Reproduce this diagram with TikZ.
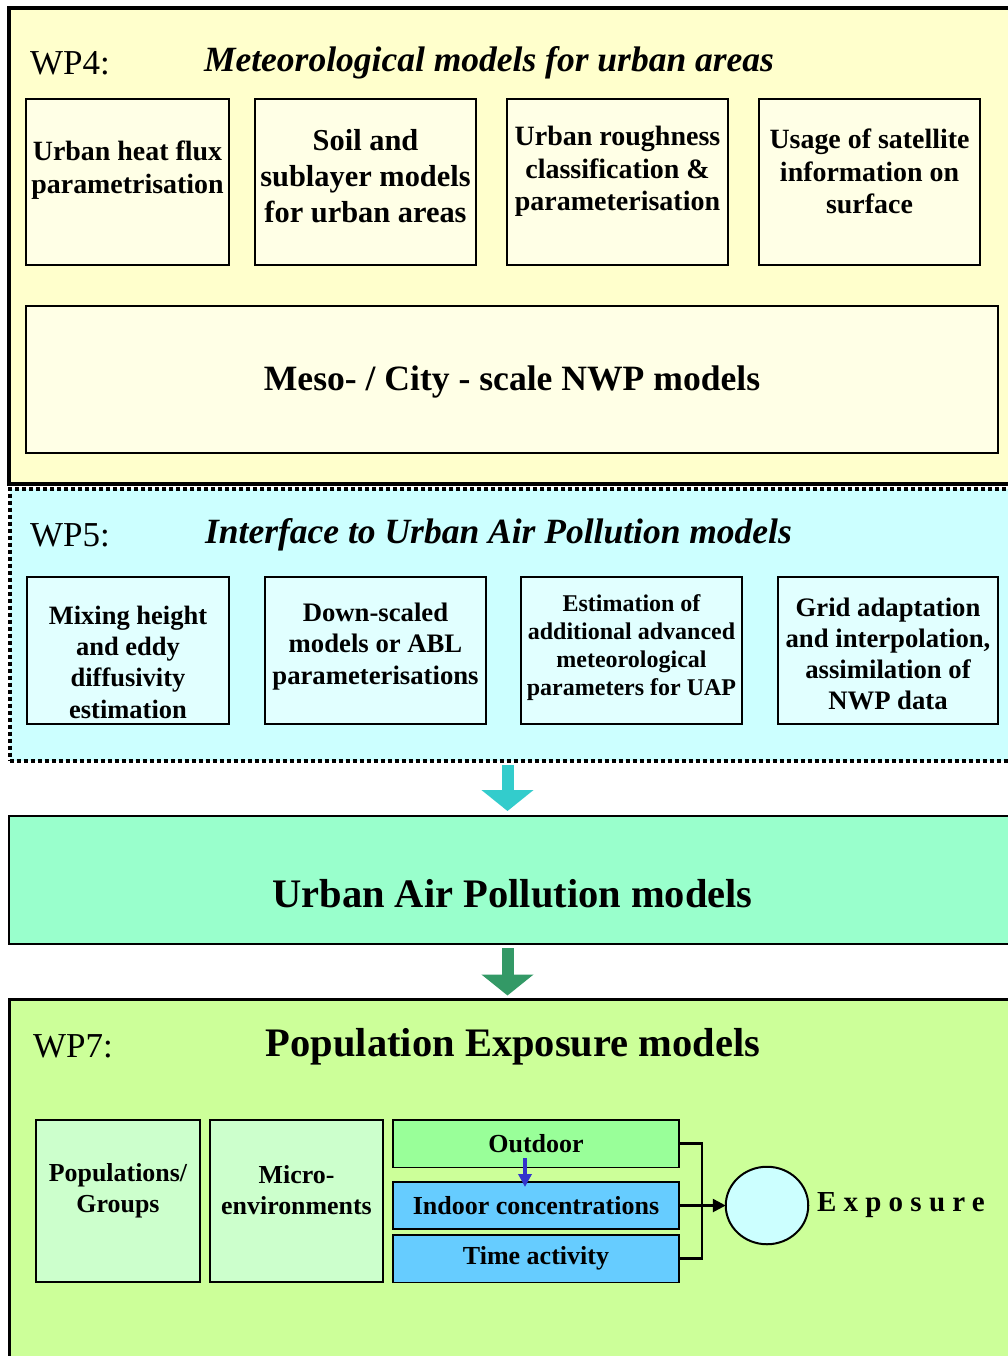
\documentclass[tikz,border=0pt]{standalone}
\usepackage{fontspec}
\setmainfont{Liberation Serif}
\usetikzlibrary{arrows.meta,calc,shapes.geometric}
\definecolor{wpyellow}{HTML}{FFFFCC}
\definecolor{boxyellow}{HTML}{FFFFE6}
\definecolor{wpcyan}{HTML}{CCFFFF}
\definecolor{boxcyan}{HTML}{E1FFFF}
\definecolor{uapgreen}{HTML}{99FFCC}
\definecolor{wpgreen}{HTML}{CCFF99}
\definecolor{popgreen}{HTML}{CCFFCC}
\definecolor{outgreen}{HTML}{99FF99}
\definecolor{inblue}{HTML}{66CCFF}
\definecolor{circcol}{HTML}{CCFFFF}
\definecolor{cyanarrow}{HTML}{33CCCC}
\definecolor{greenarrow}{HTML}{339966}
\definecolor{bluearrow}{HTML}{3333CC}
\newcommand\fsz[2]{\fontsize{#1}{#2}\selectfont}
\begin{document}
\begin{tikzpicture}[x=1pt,y=-1pt,
  panel/.style={draw=black, rectangle, outer sep=0pt, inner sep=0pt, anchor=north west},
  box/.style={draw=black, rectangle, outer sep=0pt, inner sep=0pt, anchor=north west, line width=2pt},
  txt/.style={inner sep=0pt, outer sep=0pt, align=center, yshift=-3pt},
  conn/.style={draw=black, line width=2.6pt},
  bigarrow/.style={line width=12pt, -{Triangle[width=51pt,length=21pt]}}
]
\clip (0,0) rectangle (1008,1356);
\fill[white] (0,0) rectangle (1008,1356);

% ---------- WP4 ----------
\node[panel, fill=wpyellow, line width=4pt, minimum width=1003, minimum height=476] (wp4) at (9,8) {};
\node[txt, anchor=west, font=\fsz{35}{42}] (wp4lbl) at (30,60) {WP4:};
\node[txt, font=\fsz{35.5}{42}\bfseries\itshape] (wp4title) at (489,60) {Meteorological models for urban areas};

\node[box, fill=boxyellow, minimum width=203, minimum height=166] (b41) at (26,99) {};
\node[box, fill=boxyellow, minimum width=221, minimum height=166] (b42) at (255,99) {};
\node[box, fill=boxyellow, minimum width=221, minimum height=166] (b43) at (507,99) {};
\node[box, fill=boxyellow, minimum width=221, minimum height=166] (b44) at (759,99) {};
\node[txt, font=\fsz{27.9}{33}\bfseries] (t41) at (127.5,167.5) {Urban heat flux\\parametrisation};
\node[txt, font=\fsz{30.4}{36}\bfseries] (t42) at (365.5,173) {Soil and\\sublayer models\\for urban areas};
\node[txt, font=\fsz{28}{32.5}\bfseries] (t43) at (617.5,168.5) {Urban roughness\\classification \&\\parameterisation};
\node[txt, font=\fsz{27.9}{32.5}\bfseries] (t44) at (869.5,168.5) {Usage of satellite\\information on\\surface};

\node[box, fill=boxyellow, minimum width=972, minimum height=147] (meso) at (26,306) {};
\node[txt, font=\fsz{35.6}{42}\bfseries] (mesot) at (512,379) {Meso- / City - scale NWP models};

% ---------- WP5 ----------
\node[panel, fill=wpcyan, line width=4pt, dash pattern=on 4pt off 3pt, minimum width=1003, minimum height=271.5] (wp5) at (9.5,489) {};
\node[txt, anchor=west, font=\fsz{35}{42}] (wp5lbl) at (30,532) {WP5:};
\node[txt, font=\fsz{35.5}{42}\bfseries\itshape] (wp5title) at (498.5,532) {Interface to Urban Air Pollution models};

\node[box, fill=boxcyan, minimum width=202, minimum height=147] (c1) at (27,577) {};
\node[box, fill=boxcyan, minimum width=221, minimum height=147] (c2) at (265,577) {};
\node[box, fill=boxcyan, minimum width=221, minimum height=147] (c3) at (521,577) {};
\node[box, fill=boxcyan, minimum width=220, minimum height=147] (c4) at (778,577) {};
\node[txt, font=\fsz{26.5}{31.3}\bfseries] (tc1) at (128,659) {Mixing height\\and eddy\\diffusivity\\estimation};
\node[txt, font=\fsz{26.7}{31.5}\bfseries] (tc2) at (375.5,643.5) {Down-scaled\\models or ABL\\parameterisations};
\node[txt, font=\fsz{24}{28}\bfseries] (tc3) at (631.5,645) {Estimation of\\additional advanced\\meteorological\\parameters for UAP};
\node[txt, font=\fsz{26.7}{31}\bfseries] (tc4) at (888,650.5) {Grid adaptation\\and interpolation,\\assimilation of\\NWP data};

% ---------- UAP ----------
\node[panel, fill=uapgreen, line width=2.5pt, minimum width=1003, minimum height=128] (uap) at (9,816) {};
\node[txt, font=\fsz{40.5}{48}\bfseries] (uapt) at (512.5,891) {Urban Air Pollution models};

% ---------- WP7 ----------
\node[panel, fill=wpgreen, line width=3pt, minimum width=1003, minimum height=366] (wp7) at (9.5,999) {};
\node[txt, anchor=west, font=\fsz{35}{42}] (wp7lbl) at (33,1043) {WP7:};
\node[txt, font=\fsz{40.5}{48}\bfseries] (wp7title) at (513,1044) {Population Exposure models};

\node[box, line width=1.8pt, fill=popgreen, minimum width=164, minimum height=162] (pop) at (36,1120) {};
\node[box, line width=1.8pt, fill=popgreen, minimum width=173, minimum height=162] (micro) at (210,1120) {};
\node[txt, font=\fsz{25.9}{31}\bfseries] (popt) at (118,1187.5) {Populations/\\Groups};
\node[txt, font=\fsz{25.9}{31}\bfseries] (microt) at (296.5,1187.5) {Micro-\\environments};

\node[box, line width=1.8pt, fill=outgreen, minimum width=286, minimum height=47.5, font=\fsz{26}{31}\bfseries] (outdoor) at (393,1120) {Outdoor};
\node[box, line width=1.8pt, fill=inblue, minimum width=286, minimum height=47, font=\fsz{26}{31}\bfseries] (indoor) at (393,1182) {Indoor concentrations};
\node[box, line width=1.8pt, fill=inblue, minimum width=286, minimum height=47.5, font=\fsz{26}{31}\bfseries] (time) at (393,1235) {Time activity};

\node[draw=black, line width=2pt, ellipse, fill=circcol, minimum width=82.5, minimum height=77.5, inner sep=0pt, outer sep=0pt] (circ) at (767,1205.5) {};
\node[txt, anchor=west, font=\fsz{29}{34}\bfseries\addfontfeature{LetterSpace=25}] (expo) at (817,1202) {Exposure};

% ---------- connectors ----------
\coordinate (ax) at (507.5,0);
\coordinate (jx) at (702,0);
\draw[bigarrow, cyanarrow, shorten <=4.5pt, shorten >=5pt] (ax |- wp5.south) -- (ax |- uap.north);
\draw[bigarrow, greenarrow, shorten <=4pt, shorten >=3.5pt] (ax |- uap.south) -- (ax |- wp7.north);
\draw[bluearrow, line width=4pt, -{Triangle[width=13pt,length=13pt]}] ($(outdoor.south)+(-11,-9.5)$) -- ($(indoor.north)+(-11,5)$);
\draw[conn] (outdoor.east) -| (jx |- time.east) -- (time.east);
\draw[conn, -{Triangle[width=13pt,length=13pt]}] (indoor.east) -- (circ.west);
\end{tikzpicture}
\end{document}
